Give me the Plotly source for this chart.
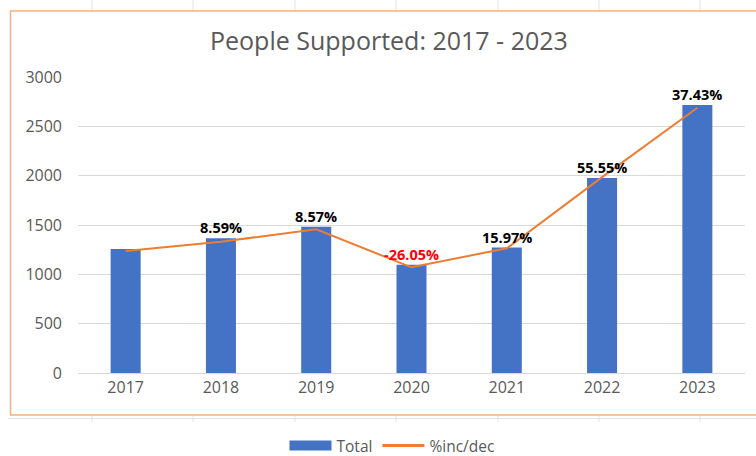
import plotly.graph_objects as go

# ---- data -------------------------------------------------------------
years = ["2017", "2018", "2019", "2020", "2021", "2022", "2023"]
totals = [1257, 1365, 1482, 1096, 1271, 1977, 2717]
trend = [1236, 1331, 1456, 1071, 1264, 1985, 2689]
pct_change = [None, 8.59, 8.57, -26.05, 15.97, 55.55, 37.43]
y_ticks = [0, 500, 1000, 1500, 2000, 2500, 3000]

# ---- page geometry (pixels) --------------------------------------------
W, H = 756, 456
ML, MR, MT, MB = 78, 11, 77, 83
PW, PH = W - ML - MR, H - MT - MB


def px(xp):
    return (xp - ML) / PW


def py(yp):
    return (H - MB - yp) / PH


BLUE = "#4472C4"
ORANGE = "#ED7D31"
GREY_TXT = "#595959"
FONT = "Open Sans"

fig = go.Figure()
fig.add_trace(go.Bar(
    x=years, y=totals, name="Total", showlegend=False,
    marker=dict(color=BLUE, line=dict(width=0)),
    width=0.315,
))
fig.add_trace(go.Scatter(
    x=years, y=trend, name="%inc/dec", mode="lines", showlegend=False,
    line=dict(color=ORANGE, width=2),
))
# legend keys: a wide block for the bars, a line for the trend
fig.add_trace(go.Scatter(
    x=[None], y=[None], name="Total", mode="lines",
    line=dict(color=BLUE, width=10),
))
fig.add_trace(go.Scatter(
    x=[None], y=[None], name="%inc/dec", mode="lines",
    line=dict(color=ORANGE, width=3),
))

# percentage labels above the bars (category index positions)
annotations = []
for i, (v, p) in enumerate(zip(totals, pct_change)):
    if p is None:
        continue
    annotations.append(dict(
        x=i, y=v, xref="x", yref="y",
        text=f"<b>{p:.2f}%</b>", showarrow=False,
        yanchor="bottom", yshift=-1,
        font=dict(family=FONT, size=14.5, color="#FF0000" if p < 0 else "#000000"),
    ))

# chart title
annotations.append(dict(
    x=px(389), y=py(40), xref="paper", yref="paper",
    text="People Supported: 2017 - 2023", showarrow=False,
    xanchor="center", yanchor="middle",
    font=dict(family=FONT, size=25, color=GREY_TXT),
))

shapes = []
# faint worksheet cell lines around the chart object
for xc in [92, 193, 295, 396, 498, 599, 700]:
    for y0, y1 in [(0, 11), (415, 422)]:
        shapes.append(dict(type="line", xref="paper", yref="paper",
                           x0=px(xc), x1=px(xc), y0=py(y0), y1=py(y1),
                           line=dict(color="#E3E3E3", width=1), layer="below"))
shapes.append(dict(type="line", xref="paper", yref="paper",
                   x0=px(8), x1=px(W + 5), y0=py(418.5), y1=py(418.5),
                   line=dict(color="#E3E3E3", width=1), layer="below"))
# chart frame
shapes.append(dict(type="rect", xref="paper", yref="paper",
                   x0=px(10.5), x1=px(W + 10), y0=py(11), y1=py(415),
                   line=dict(color="#F4B183", width=1.5), fillcolor="rgba(0,0,0,0)"))

fig.update_layout(
    width=W, height=H,
    margin=dict(l=ML, r=MR, t=MT, b=MB, pad=0, autoexpand=False),
    paper_bgcolor="white", plot_bgcolor="white",
    bargap=0.685,
    showlegend=True,
    legend=dict(
        orientation="h", x=px(392), y=py(446), xanchor="center", yanchor="middle",
        font=dict(family=FONT, size=15.5, color=GREY_TXT),
        bgcolor="rgba(0,0,0,0)", itemwidth=42,
    ),
    xaxis=dict(
        type="category", showgrid=False, zeroline=False, showline=True,
        linecolor="#D9D9D9", linewidth=1, ticks="",
        tickfont=dict(family=FONT, size=16, color=GREY_TXT),
        range=[-0.5, len(years) - 0.5],
    ),
    yaxis=dict(
        range=[0, 3000], tickvals=y_ticks, ticktext=[str(t) for t in y_ticks],
        showgrid=True, gridcolor="#D9D9D9", gridwidth=1, zeroline=False,
        showline=False, ticks="", ticklabelstandoff=15,
        tickfont=dict(family=FONT, size=16, color=GREY_TXT),
    ),
    annotations=annotations,
    shapes=shapes,
)

fig.write_html("out.html")
